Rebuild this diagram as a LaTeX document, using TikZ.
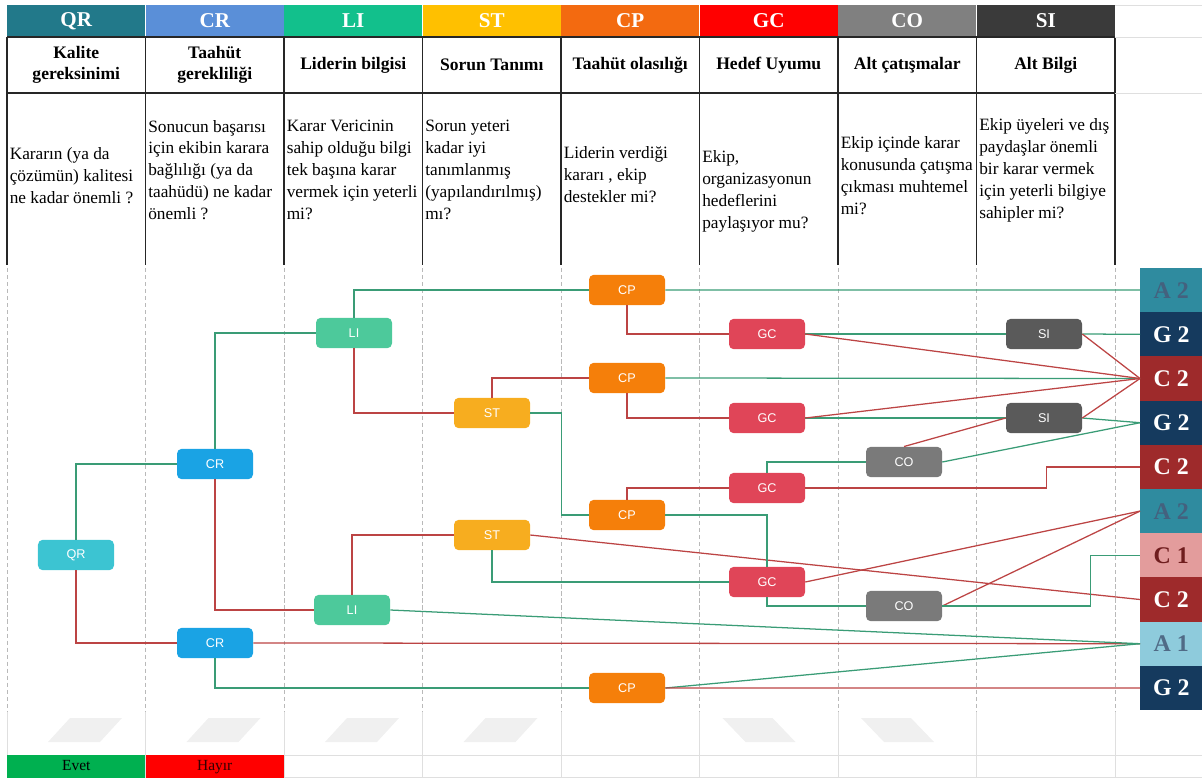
\documentclass[tikz,border=0pt]{standalone}
\usepackage{fontspec}
\setmainfont{Liberation Serif}
\setsansfont{Liberation Sans}
\usepackage{xcolor}
\usetikzlibrary{positioning,calc}

% header colours
\definecolor{cQR}{HTML}{22798A}
\definecolor{cCR}{HTML}{5A8FD8}
\definecolor{cLI}{HTML}{12C08C}
\definecolor{cST}{HTML}{FFC000}
\definecolor{cCP}{HTML}{F36A10}
\definecolor{cGC}{HTML}{FF0000}
\definecolor{cCO}{HTML}{808080}
\definecolor{cSI}{HTML}{3A3A3A}
% question nodes
\definecolor{nQR}{HTML}{3CC4D2}
\definecolor{nCR}{HTML}{1AA3E4}
\definecolor{nLI}{HTML}{4DC99B}
\definecolor{nST}{HTML}{F7AD1F}
\definecolor{nCP}{HTML}{F57F0A}
\definecolor{nGC}{HTML}{E04558}
\definecolor{nCO}{HTML}{7A7A7A}
\definecolor{nSI}{HTML}{5A5A5A}
% outcomes
\definecolor{oA2}{HTML}{2F8B9F}
\definecolor{oG2}{HTML}{153A5E}
\definecolor{oC2}{HTML}{9E2A2B}
\definecolor{oC1}{HTML}{E39C9C}
\definecolor{oA1}{HTML}{8ECBDC}
% connectors
\definecolor{yescol}{HTML}{3A9C76}
\definecolor{nocol}{HTML}{BC4444}
\definecolor{cEvet}{HTML}{00B050}
\definecolor{cHayir}{HTML}{FF0000}

\begin{document}
\begin{tikzpicture}[
    x=0.25mm, y=-0.25mm,
    head/.style={minimum width=34.6mm, minimum height=8mm, inner sep=0pt,
                 text=white, font=\bfseries\fontsize{15}{15}\selectfont},
    title/.style={align=center, inner sep=0pt,
                  font=\bfseries\fontsize{12.5}{15}\selectfont},
    desc/.style={anchor=west, align=left, inner sep=0pt,
                 font=\fontsize{12.3}{15.6}\selectfont},
    qbox/.style={rounded corners=1.2mm, minimum width=19mm, minimum height=7.6mm,
                 inner sep=0pt, text=white, font=\sffamily\fontsize{9}{9}\selectfont},
    outcome/.style={anchor=west, minimum width=15.5mm, minimum height=11.05mm,
                inner sep=0pt, font=\bfseries\fontsize{17}{17}\selectfont},
    legend/.style={minimum width=34.6mm, minimum height=5.75mm, inner sep=0pt,
                   text height=1.6ex, text depth=0.3ex,
                   font=\fontsize{11}{11}\selectfont},
    yes/.style={draw=yescol, line width=0.9pt},
    no/.style={draw=nocol, line width=0.9pt},
  ]
  \useasboundingbox (0,0) rectangle (1202,778);

  % Table: header row
  \foreach \lab/\col [count=\i from 0] in {QR/cQR,CR/cCR,LI/cLI,ST/cST,CP/cCP,GC/cGC,CO/cCO,SI/cSI}
    \node[head, fill=\col] (h\i) at ({76.25+138.5*\i},21) {\lab};

  % Table: titles
  \foreach \txt [count=\i from 0] in {{Kalite\\gereksinimi},{Taahüt\\gerekliliği},
      {Liderin bilgisi},{Sorun Tanımı},{Taahüt olasılığı},{Hedef Uyumu},
      {Alt çatışmalar},{Alt Bilgi}}
    \node[title] (t\i) at ({76.25+138.5*\i},65) {\txt};

  % Table: questions
  \foreach \yc/\txt [count=\i from 0] in {
      176/{Kararın (ya da\\çözümün) kalitesi\\ne kadar önemli ?},
      170/{Sonucun başarısı\\için ekibin karara\\bağlılığı (ya da\\taahüdü) ne kadar\\önemli ?},
      170/{Karar Vericinin\\sahip olduğu bilgi\\tek başına karar\\vermek için yeterli\\mi?},
      170/{Sorun yeteri\\kadar iyi\\tanımlanmış\\(yapılandırılmış)\\mı?},
      175/{Liderin verdiği\\kararı , ekip\\destekler mi?},
      191/{Ekip,\\organizasyonun\\hedeflerini\\paylaşıyor mu?},
      176/{Ekip içinde karar\\konusunda çatışma\\çıkması muhtemel\\mi?},
      170/{Ekip üyeleri ve dış\\paydaşlar önemli\\bir karar vermek\\için yeterli bilgiye\\sahipler mi?}}
    \node[desc] (d\i) at ({9.5+138.5*\i},\yc) {\txt};

  % Table: rules
  \draw[black!85, line width=0.8pt] (7,37) -- (1115,37) (7,93) -- (1115,93);
  \foreach \i in {0,...,8}
    \draw[black!85, line width=0.8pt] ({7+138.5*\i},37) -- ({7+138.5*\i},265);
  \draw[gray!25] (1115,5) -- (1202,5) (1115,37) -- (1202,37) (1115,93) -- (1202,93);

  % Diagram grid and bottom strip
  \foreach \i in {0,...,8} {
    \draw[gray!55, densely dashed, line width=0.4pt] ({7+138.5*\i},268) -- ({7+138.5*\i},712);
    \draw[gray!25] ({7+138.5*\i},712) -- ({7+138.5*\i},778);
  }
  \draw[gray!25] (284,755) -- (1202,755) (7,777.5) -- (1202,777.5);
  \foreach \i in {0,...,3}
    \fill[gray!12] ({48+138.5*\i},742) -- ({100+138.5*\i},742)
                -- ({122+138.5*\i},718) -- ({70+138.5*\i},718) -- cycle;
  \foreach \i in {5,6}
    \fill[gray!12] ({30+138.5*\i},718) -- ({80+138.5*\i},718)
                -- ({103+138.5*\i},742) -- ({53+138.5*\i},742) -- cycle;

  % Legend
  \node[legend, fill=cEvet] (evet) at (76.25,766.5) {Evet};
  \node[legend, fill=cHayir, text=black!80!red] (hayir) at (214.75,766.5) {Hayır};

  % Question nodes
  \node[qbox, fill=nQR] (qr) at (76,555) {QR};
  \node[qbox, fill=nCR] (crA) at (215,464) {CR};
  \node[qbox, fill=nCR] (crB) at (215,643) {CR};
  \node[qbox, fill=nLI] (liA) at (354,333) {LI};
  \node[qbox, fill=nLI] (liB) at (352,610) {LI};
  \node[qbox, fill=nST] (stA) at (492,413) {ST};
  \node[qbox, fill=nST] (stB) at (492,535) {ST};
  \node[qbox, fill=nCP] (cpA) at (627,290) {CP};
  \node[qbox, fill=nCP] (cpB) at (627,378) {CP};
  \node[qbox, fill=nCP] (cpC) at (627,515) {CP};
  \node[qbox, fill=nCP] (cpD) at (627,688) {CP};
  \node[qbox, fill=nGC] (gcA) at (767,334) {GC};
  \node[qbox, fill=nGC] (gcB) at (767,418) {GC};
  \node[qbox, fill=nGC] (gcC) at (767,488) {GC};
  \node[qbox, fill=nGC] (gcD) at (767,582) {GC};
  \node[qbox, fill=nCO] (coA) at (904,462) {CO};
  \node[qbox, fill=nCO] (coB) at (904,606) {CO};
  \node[qbox, fill=nSI] (siA) at (1044,334) {SI};
  \node[qbox, fill=nSI] (siB) at (1044,418) {SI};

  % Outcomes
  \node[outcome, fill=oA2, text=oG2!80] (a2a) at (1140,290.1) {A 2};
  \node[outcome, fill=oG2, text=white] (g2a) at (1140,334.3) {G 2};
  \node[outcome, fill=oC2, text=white] (c2a) at (1140,378.5) {C 2};
  \node[outcome, fill=oG2, text=white] (g2b) at (1140,422.7) {G 2};
  \node[outcome, fill=oC2, text=white] (c2b) at (1140,466.9) {C 2};
  \node[outcome, fill=oA2, text=oG2!80] (a2b) at (1140,511.1) {A 2};
  \node[outcome, fill=oC1, text=oC2!70!black] (c1) at (1140,555.3) {C 1};
  \node[outcome, fill=oC2, text=white] (c2c) at (1140,599.5) {C 2};
  \node[outcome, fill=oA1, text=oG2!75] (a1) at (1140,643.7) {A 1};
  \node[outcome, fill=oG2, text=white] (g2c) at (1140,687.9) {G 2};

  % QR and CR
  \draw[yes] (qr.north) |- (crA.west);
  \draw[no] (qr.south) |- (crB.west);
  \draw[yes] (crA.north) |- (liA.west);
  \draw[no] (crA.south) |- (liB.west);
  \draw[no] (crB.east) -- (a1.west);
  \draw[yes] (crB.south) |- (cpD.west);

  % LI and ST
  \draw[yes] (liA.north) |- (cpA.west);
  \draw[no] (liA.south) |- (stA.west);
  \draw[no] (stA.north) |- (cpB.west);
  \draw[yes] (stA.east) -- ++(31,0) |- (cpC.west);
  \draw[no] (liB.north) |- (stB.west);
  \draw[yes] (liB.east) -- (a1.west);
  \draw[yes] (stB.south) |- (gcD.west);
  \draw[no] (stB.east) -- (c2c.west);

  % CP
  \draw[yes] (cpA.east) -- (a2a.west);
  \draw[no] (cpA.south) |- (gcA.west);
  \draw[yes] (cpB.east) -- (c2a.west);
  \draw[no] (cpB.south) |- (gcB.west);
  \draw[no] (cpC.north) |- (gcC.west);
  \draw[yes] (cpC.east) -| (gcD.north);
  \draw[yes] (cpD.east) -- (a1.west);
  \draw[no] (cpD.east) -- (g2c.west);

  % GC
  \draw[yes] (gcA.east) -- (siA.west);
  \draw[no] (gcA.east) -- (c2a.west);
  \draw[yes] (gcB.east) -- (siB.west);
  \draw[no] (gcB.east) -- (c2a.west);
  \draw[yes] (gcC.north) |- (coA.west);
  \draw[no] (gcC.east) -- ++(241,0) |- (c2b.west);
  \draw[no] (gcD.east) -- (a2b.west);
  \draw[yes] (gcD.south) |- (coB.west);

  % CO and SI
  \draw[no] (coA.north) -- (siB.west);
  \draw[yes] (coA.east) -- (g2b.west);
  \draw[no] (coB.east) -- (a2b.west);
  \draw[yes] (coB.east) -- ++(148,0) |- (c1.west);
  \draw[yes] (siA.east) -- (g2a.west);
  \draw[no] (siA.east) -- (c2a.west);
  \draw[yes] (siB.east) -- (g2b.west);
  \draw[no] (siB.east) -- (c2a.west);

\end{tikzpicture}
\end{document}
